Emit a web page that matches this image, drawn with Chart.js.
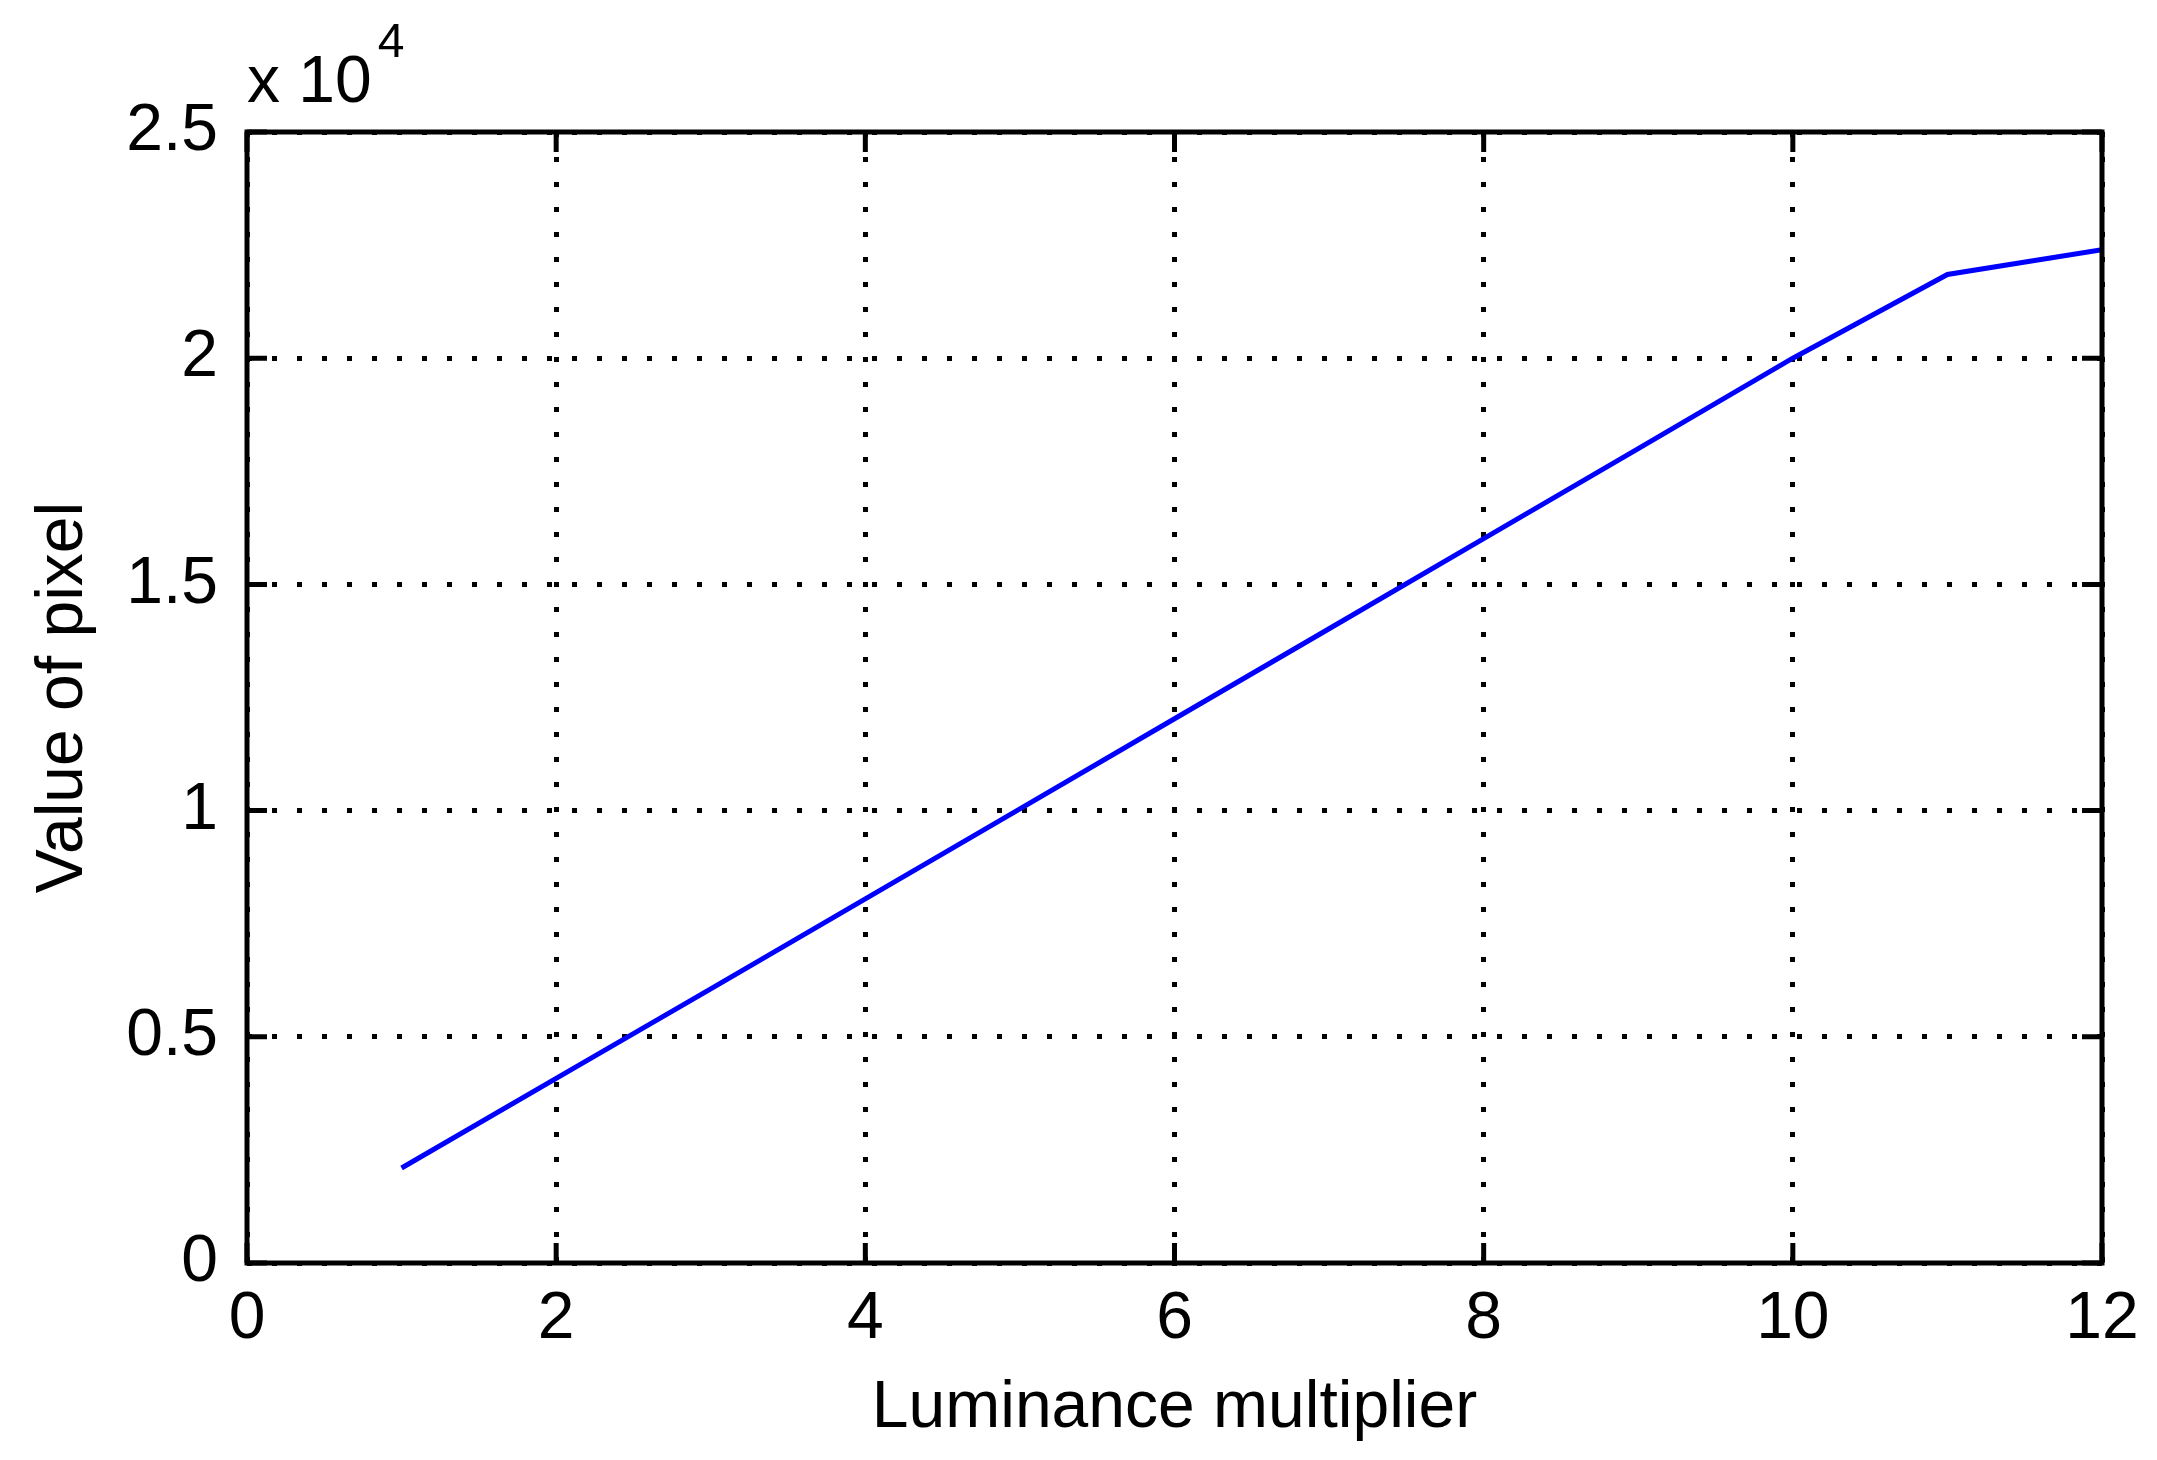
<!DOCTYPE html>
<html>
<head>
<meta charset="utf-8">
<script src="https://cdn.jsdelivr.net/npm/chart.js@4.4.1/dist/chart.umd.min.js"></script>
<style>
  html, body { margin: 0; padding: 0; background: #fff; }
  #c { display: block; }
</style>
</head>
<body>
<canvas id="c" width="2157" height="1460"></canvas>
<script>
// Data
const multiplier = [1, 2, 3, 4, 5, 6, 7, 8, 9, 10, 11, 12]
const pixelValue = [2100, 4080, 6060, 8050, 10040, 12030, 14020, 16010, 18000, 20000, 21850, 22400]

const xTicks = [0, 2, 4, 6, 8, 10, 12]
const yTicks = [0, 5000, 10000, 15000, 20000, 25000]
const yExponent = 4

const FONT = '"Liberation Sans Narrow", "Liberation Sans", Arial, sans-serif'
const SIZE = 66

// box with inward tick marks on all four sides, plus the "x 10^4" note
const matlabBox = {
  id: 'matlabBox',
  afterDatasetsDraw(chart) {
    const { ctx, chartArea: a, scales } = chart
    const tick = 20
    ctx.save()
    ctx.strokeStyle = '#000'
    ctx.lineWidth = 5
    ctx.strokeRect(a.left, a.top, a.right - a.left, a.bottom - a.top)
    ctx.beginPath()
    xTicks.forEach(v => {
      const px = scales.x.getPixelForValue(v)
      ctx.moveTo(px, a.bottom); ctx.lineTo(px, a.bottom - tick)
      ctx.moveTo(px, a.top); ctx.lineTo(px, a.top + tick)
    })
    yTicks.forEach(v => {
      const py = scales.y.getPixelForValue(v)
      ctx.moveTo(a.left, py); ctx.lineTo(a.left + tick, py)
      ctx.moveTo(a.right, py); ctx.lineTo(a.right - tick, py)
    })
    ctx.stroke()

    ctx.fillStyle = '#000'
    ctx.textBaseline = 'alphabetic'
    ctx.textAlign = 'left'
    ctx.font = SIZE + 'px ' + FONT
    const label = 'x 10'
    ctx.fillText(label, a.left, a.top - 30)
    const w = ctx.measureText(label).width
    ctx.font = '48px ' + FONT
    ctx.fillText(String(yExponent), a.left + w + 6, a.top - 75)
    ctx.restore()
  }
}

const ctx = document.getElementById('c')
new Chart(ctx, {
  type: 'line',
  data: {
    labels: multiplier,
    datasets: [{
      data: multiplier.map((x, i) => ({ x, y: pixelValue[i] })),
      borderColor: '#0000FF',
      borderWidth: 5,
      pointRadius: 0,
      tension: 0,
      fill: false,
    }]
  },
  options: {
    responsive: false,
    animation: false,
    devicePixelRatio: 1,
    layout: { padding: { left: 0, top: 132, right: 55, bottom: 0 } },
    plugins: {
      legend: { display: false },
      tooltip: { enabled: false },
    },
    scales: {
      x: {
        type: 'linear',
        min: 0,
        max: 12,
        afterFit: s => { s.height = 197 },
        afterBuildTicks: s => { s.ticks = xTicks.map(v => ({ value: v })) },
        grid: { color: '#000', lineWidth: 5, drawTicks: false },
        border: { display: false, dash: [5, 20] },
        ticks: {
          color: '#000',
          padding: 17,
          font: { family: FONT, size: SIZE },
          maxRotation: 0,
        },
        title: {
          display: true,
          text: 'Luminance multiplier',
          color: '#000',
          font: { family: FONT, size: SIZE },
          padding: { top: 0, bottom: 12 },
        },
      },
      y: {
        type: 'linear',
        min: 0,
        max: 25000,
        afterFit: s => { s.width = 247 },
        afterBuildTicks: s => { s.ticks = yTicks.map(v => ({ value: v })) },
        grid: { color: '#000', lineWidth: 5, drawTicks: false },
        border: { display: false, dash: [5, 20] },
        ticks: {
          color: '#000',
          padding: 29,
          font: { family: FONT, size: SIZE },
          callback: v => String(v / Math.pow(10, yExponent)),
        },
        title: {
          display: true,
          text: 'Value of pixel',
          color: '#000',
          font: { family: FONT, size: SIZE },
          padding: { top: 24, bottom: 0 },
        },
      },
    },
  },
  plugins: [matlabBox],
})
</script>
</body>
</html>
